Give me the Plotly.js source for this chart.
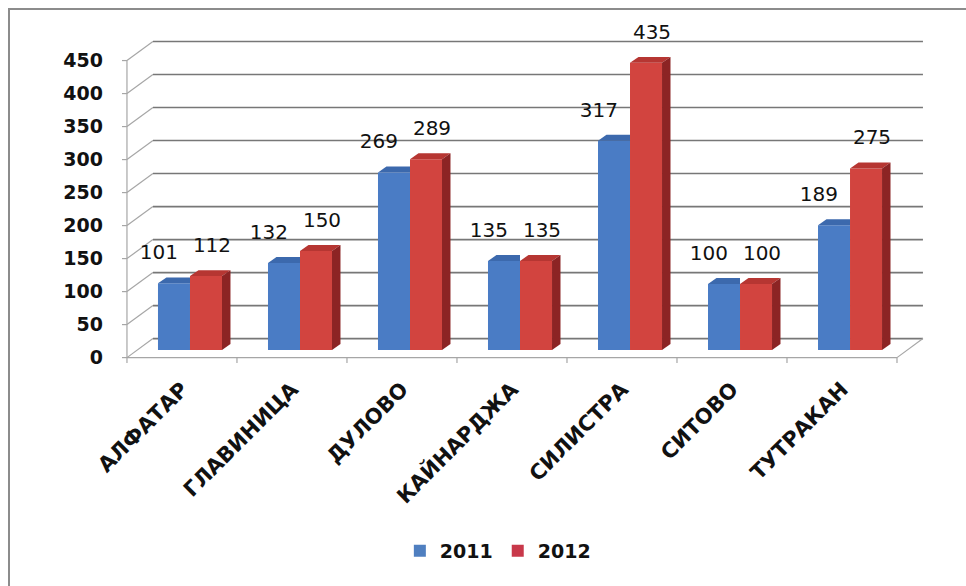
<!DOCTYPE html>
<html>
<head>
<meta charset="utf-8">
<script src="https://cdn.plot.ly/plotly-3.0.1.min.js"></script>
<style>
  html, body { margin: 0; padding: 0; background: #ffffff; width: 966px; height: 586px; overflow: hidden; }
  #frame { position: absolute; left: 8px; top: 8px; width: 1000px; height: 1000px; border: 2px solid #8c8c8c; box-sizing: border-box; }
  #chart { position: absolute; left: 0; top: 0; width: 966px; height: 586px; }
</style>
</head>
<body>
<div id="frame"></div>
<div id="chart"></div>
<script>
// ---- data ----
const categories = ['АЛФАТАР', 'ГЛАВИНИЦА', 'ДУЛОВО', 'КАЙНАРДЖА', 'СИЛИСТРА', 'СИТОВО', 'ТУТРАКАН'];
const values2011 = [101, 132, 269, 135, 317, 100, 189];
const values2012 = [112, 150, 289, 135, 435, 100, 275];
const seriesNames = ['2011', '2012'];
const yTicks = [0, 50, 100, 150, 200, 250, 300, 350, 400, 450];

// ---- style / geometry constants ----
const FONT = 'DejaVu Sans, Verdana, sans-serif';
const barW = 0.291, blueOff = -0.218, redOff = 0.073;
const barDx = 0.077, barDy = 9;          // depth of each bar (category units, value units)
const wallDx = 0.236, wallDy = 28.8;     // front axis -> back wall offset
const xRange = [-0.636, 6.891];
const yBarRange = [-33.3, 484.8];
const frontShift = 11.5;                 // front axis plane lies below the bar plane
const yFrontRange = [yBarRange[0] + frontShift, yBarRange[1] + frontShift];
const xLeft = -0.5, xRight = categories.length - 0.5;
const colBlue = '#4a7cc5', colBlueTop = '#3c69ad';
const colRed = '#d2443f', colRedTop = '#b63632', colRedSide = '#8c2424';
const legBlue = '#4f7fc0', legRed = '#c8384a';

const idx = categories.map((_, i) => i);
const traces = [];

// ---- frame (subplot x/y, front coordinates) ----
const gx = [], gy = [];
yTicks.forEach(v => {
  gx.push(xLeft + wallDx, xRight + wallDx, null);
  gy.push(v + wallDy, v + wallDy, null);
});
traces.push({ type: 'scatter', mode: 'lines', x: gx, y: gy, xaxis: 'x', yaxis: 'y',
  line: { color: '#777777', width: 1.6 }, showlegend: false, hoverinfo: 'skip' });
const dx = [], dy = [];
yTicks.forEach(v => {
  dx.push(xLeft, xLeft + wallDx, null);
  dy.push(v, v + wallDy, null);
  dx.push(xLeft - 0.045, xLeft, null);
  dy.push(v, v, null);
});
dx.push(xLeft, xLeft, null); dy.push(yTicks[0], yTicks[yTicks.length - 1], null);
dx.push(xLeft, xRight, null); dy.push(0, 0, null);
dx.push(xRight, xRight + wallDx, null); dy.push(0, wallDy, null);
for (let k = 0; k <= categories.length; k++) {
  dx.push(xLeft + k, xLeft + k, null); dy.push(0, -8, null);
}
traces.push({ type: 'scatter', mode: 'lines', x: dx, y: dy, xaxis: 'x', yaxis: 'y',
  line: { color: '#a6a6a6', width: 1.2 }, showlegend: false, hoverinfo: 'skip' });

// ---- bars (subplot x2/y2, bar-plane coordinates) ----
traces.push({ type: 'bar', name: seriesNames[0], x: idx, y: values2011, width: barW, offset: blueOff,
  xaxis: 'x2', yaxis: 'y2', marker: { color: colBlue, line: { width: 0 } }, showlegend: false });
traces.push({ type: 'bar', name: seriesNames[1], x: idx, y: values2012, width: barW, offset: redOff,
  xaxis: 'x2', yaxis: 'y2', marker: { color: colRed, line: { width: 0 } }, showlegend: false });

function poly(xs, ys, color) {
  traces.push({ type: 'scatter', mode: 'lines', x: xs.concat([xs[0]]), y: ys.concat([ys[0]]),
    xaxis: 'x2', yaxis: 'y2', fill: 'toself', fillcolor: color, line: { width: 0, color: color },
    showlegend: false, hoverinfo: 'skip' });
}
idx.forEach(i => {
  const vb = values2011[i], vr = values2012[i];
  const b0 = i + blueOff, b1 = b0 + barW;
  const r0 = i + redOff, r1 = r0 + barW;
  // blue top (right part hidden behind the red bar)
  poly([b0, b1, b1, b0 + barDx], [vb, vb, vb + barDy, vb + barDy], colBlueTop);
  // red top
  poly([r0, r1, r1 + barDx, r0 + barDx], [vr, vr, vr + barDy, vr + barDy], colRedTop);
  // red side
  poly([r1, r1, r1 + barDx, r1 + barDx], [0, vr, vr + barDy, barDy], colRedSide);
});

// ---- data labels ----
const lblFont = { family: FONT, size: 20, color: '#111111' };
traces.push({ type: 'scatter', mode: 'text', x: idx.map(i => i - 0.21), y: values2011.map(v => v + 44),
  text: values2011.map(String), textposition: 'middle center', textfont: lblFont, cliponaxis: false,
  xaxis: 'x2', yaxis: 'y2', showlegend: false, hoverinfo: 'skip' });
traces.push({ type: 'scatter', mode: 'text', x: idx.map(i => i + 0.273), y: values2012.map(v => v + 44),
  text: values2012.map(String), textposition: 'middle center', textfont: lblFont, cliponaxis: false,
  xaxis: 'x2', yaxis: 'y2', showlegend: false, hoverinfo: 'skip' });

// ---- legend entries ----
traces.push({ type: 'bar', name: seriesNames[0], x: [null], y: [null], xaxis: 'x2', yaxis: 'y2',
  marker: { color: legBlue }, showlegend: true });
traces.push({ type: 'bar', name: seriesNames[1], x: [null], y: [null], xaxis: 'x2', yaxis: 'y2',
  marker: { color: legRed }, showlegend: true });

const layout = {
  width: 966, height: 586,
  margin: { l: 112, r: 26, t: 30, b: 214 },
  paper_bgcolor: 'rgba(0,0,0,0)', plot_bgcolor: 'rgba(0,0,0,0)',
  barmode: 'overlay',
  showlegend: true,
  legend: { orientation: 'h', x: 0.466, xanchor: 'center', y: -0.523, yanchor: 'middle',
    font: { family: FONT, size: 19, color: '#111111', weight: 'bold' }, traceorder: 'normal',
    itemwidth: 30, bgcolor: 'rgba(0,0,0,0)' },
  xaxis: { range: xRange, tickvals: idx, ticktext: categories, tickangle: -45,
    showgrid: false, zeroline: false, showline: false, ticks: '',
    tickfont: { family: FONT, size: 21, color: '#111111', weight: 'bold' } },
  yaxis: { range: yFrontRange, tickvals: yTicks, ticktext: yTicks.map(String),
    showgrid: false, zeroline: false, showline: false, ticks: '', ticklabelstandoff: 8,
    tickfont: { family: FONT, size: 19, color: '#111111', weight: 'bold' } },
  xaxis2: { range: xRange, overlaying: 'x', anchor: 'y2', visible: false },
  yaxis2: { range: yBarRange, overlaying: 'y', anchor: 'x2', visible: false },
  hovermode: false
};

Plotly.newPlot('chart', traces, layout, { displayModeBar: false, staticPlot: true });
</script>
</body>
</html>
